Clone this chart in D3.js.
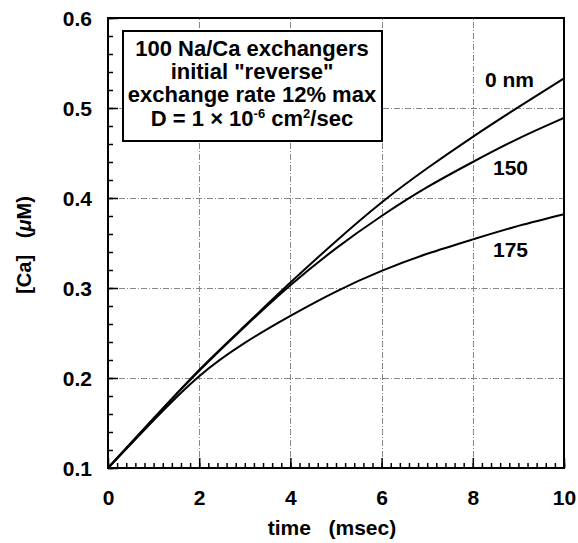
<!DOCTYPE html>
<html>
<head>
<meta charset="utf-8">
<script src="https://cdn.jsdelivr.net/npm/d3@7"></script>
<style>
  body { margin: 0; background: #fff; }
  svg { font-family: "Liberation Sans", Arial, sans-serif; font-weight: bold; }
  .pre { white-space: pre; }
</style>
</head>
<body>
<script>
// data
const times = [0, 1, 2, 3, 4, 5, 6, 7, 8, 9, 10]
const ca0 = [0.1, 0.155, 0.209, 0.258, 0.306, 0.352, 0.395, 0.433, 0.468, 0.501, 0.533]
const ca150 = [0.1, 0.155, 0.208, 0.257, 0.303, 0.344, 0.38, 0.412, 0.44, 0.466, 0.489]
const ca175 = [0.1, 0.153, 0.202, 0.239, 0.269, 0.296, 0.319, 0.338, 0.354, 0.369, 0.382]
const seriesNames = ['0 nm', '150', '175']
const xTicks = [0, 2, 4, 6, 8, 10]
const yTicks = [0.1, 0.2, 0.3, 0.4, 0.5, 0.6]

const W = 578, H = 543
const x = d3.scaleLinear().domain([0, 10]).range([108, 564])
const y = d3.scaleLinear().domain([0.1, 0.6]).range([468, 18])

const svg = d3.select('body').append('svg').attr('width', W).attr('height', H)

// grid, dash-dot grey
const grid = svg.append('g').attr('stroke', '#888').attr('stroke-width', 1).attr('stroke-dasharray', '6,2,1,2')
grid.selectAll('line.gx').data(xTicks.slice(1, -1)).join('line').attr('class', 'gx')
  .attr('x1', d => Math.round(x(d)) + 0.5).attr('x2', d => Math.round(x(d)) + 0.5).attr('y1', y(0.1)).attr('y2', y(0.6))
grid.selectAll('line.gy').data(yTicks.slice(1, -1)).join('line').attr('class', 'gy')
  .attr('y1', d => Math.round(y(d)) + 0.5).attr('y2', d => Math.round(y(d)) + 0.5).attr('x1', x(0)).attr('x2', x(10))

// minor ticks (point inward)
const gx = svg.append('g').attr('transform', `translate(0,${y(0.1)})`)
  .call(d3.axisBottom(x).tickValues(d3.range(0, 10.01, 0.2)).tickSize(-5).tickFormat(''))
const gy = svg.append('g').attr('transform', `translate(${x(0)},0)`)
  .call(d3.axisLeft(y).tickValues(d3.range(0.1, 0.601, 0.02)).tickSize(-5).tickFormat(''))
// major ticks + labels
const gxMaj = svg.append('g').attr('transform', `translate(0,${y(0.1)})`)
  .call(d3.axisBottom(x).tickValues(xTicks).tickSize(-10).tickPadding(22).tickFormat(d3.format('d')))
const gyMaj = svg.append('g').attr('transform', `translate(${x(0)},0)`)
  .call(d3.axisLeft(y).tickValues(yTicks).tickSize(-10).tickPadding(16).tickFormat(d3.format('.1f')))
;[gx, gy, gxMaj, gyMaj].forEach(g => {
  g.select('.domain').remove()
  g.selectAll('.tick line').attr('stroke-width', 1.5)
  g.selectAll('.tick text').attr('font-size', 21).attr('font-weight', 'bold')
    .attr('font-family', '"Liberation Sans", Arial, sans-serif').attr('fill', '#000')
})
gyMaj.selectAll('.tick text').attr('dy', '0.35em')

// frame
svg.append('rect').attr('x', x(0)).attr('y', y(0.6))
  .attr('width', x(10) - x(0)).attr('height', y(0.1) - y(0.6))
  .attr('fill', 'none').attr('stroke', '#000').attr('stroke-width', 2)

// curves
const line = d3.line().x((d, i) => x(times[i])).y(d => y(d)).curve(d3.curveNatural)
svg.selectAll('path.curve').data([ca0, ca150, ca175]).join('path').attr('class', 'curve')
  .attr('d', line).attr('fill', 'none').attr('stroke', '#000').attr('stroke-width', 2)

// curve labels
const labelPos = [[485, 87], [493, 175], [493, 257]]
svg.selectAll('text.lbl').data(seriesNames).join('text').attr('class', 'lbl')
  .attr('x', (d, i) => labelPos[i][0]).attr('y', (d, i) => labelPos[i][1])
  .attr('font-size', 21).text(d => d)

// info box
svg.append('rect').attr('x', 123).attr('y', 31).attr('width', 259).attr('height', 110)
  .attr('fill', '#fff').attr('stroke', '#000').attr('stroke-width', 2)
const boxLines = ['100 Na/Ca exchangers', 'initial "reverse"', 'exchange rate 12% max']
svg.selectAll('text.box').data(boxLines).join('text').attr('class', 'box')
  .attr('text-anchor', 'middle').attr('font-size', 22)
  .attr('x', 252).attr('y', (d, i) => 56 + i * 23).text(d => d)
const l4 = svg.append('text').attr('text-anchor', 'middle').attr('font-size', 22).attr('x', 252).attr('y', 126)
l4.append('tspan').text('D = 1 \u00d7 10')
l4.append('tspan').attr('font-size', 13).attr('dy', -8).text('-6')
l4.append('tspan').attr('dy', 8).text(' cm')
l4.append('tspan').attr('font-size', 13).attr('dy', -8).text('2')
l4.append('tspan').attr('dy', 8).text('/sec')

// axis titles
svg.append('text').attr('class', 'pre').attr('x', 332).attr('y', 535).attr('text-anchor', 'middle').attr('font-size', 21)
  .text('time   (msec)')
const yt = svg.append('text').attr('class', 'pre').attr('transform', 'translate(31,245) rotate(-90)')
  .attr('text-anchor', 'middle').attr('font-size', 20)
yt.append('tspan').text('[Ca]   (')
yt.append('tspan').attr('font-style', 'italic').text('\u03bc')
yt.append('tspan').text('M)')
</script>
</body>
</html>
